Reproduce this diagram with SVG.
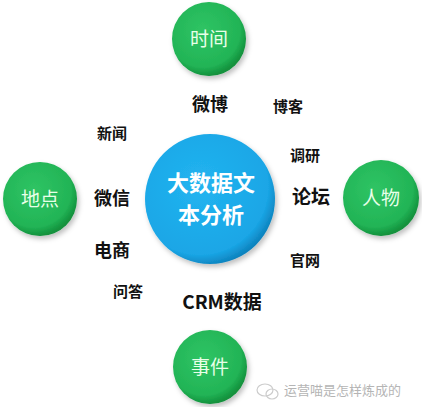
<svg xmlns="http://www.w3.org/2000/svg" width="422" height="407" viewBox="0 0 422 407">
<defs>
<radialGradient id="gG" cx="0.42" cy="0.38" r="0.62">
<stop offset="0" stop-color="#2fc464"/>
<stop offset="0.8" stop-color="#22b456"/>
<stop offset="1" stop-color="#12913c"/>
</radialGradient>
<radialGradient id="bG" cx="0.42" cy="0.4" r="0.62">
<stop offset="0" stop-color="#22b4f0"/>
<stop offset="0.85" stop-color="#1aa6e6"/>
<stop offset="1" stop-color="#0d82bd"/>
</radialGradient>
<filter id="sh" x="-20%" y="-20%" width="140%" height="140%">
<feDropShadow dx="2" dy="3" stdDeviation="2.5" flood-color="#000" flood-opacity="0.25"/>
</filter>
</defs>
<style>
.g{fill:url(#gG);filter:url(#sh)}
.gt{font-family:"Noto Sans CJK SC","Noto Sans",sans-serif;font-size:19px;fill:#e8ffe8;text-anchor:middle}
.k{font-family:"Noto Sans CJK SC","Liberation Sans",sans-serif;font-weight:bold;fill:#111;text-anchor:middle}
.c{font-family:"Noto Sans CJK SC",sans-serif;font-weight:bold;font-size:22px;fill:#fff;text-anchor:middle}
</style>
<rect width="422" height="407" fill="#fff"/>
<g id="center">
<circle cx="210" cy="199" r="65" fill="url(#bG)" filter="url(#sh)"/>
<text class="c" x="211" y="191">大数据文</text>
<text class="c" x="211" y="223">本分析</text>
</g>
<g id="time"><circle class="g" cx="209" cy="39" r="37"/><text class="gt" x="209" y="46">时间</text></g>
<g id="place"><circle class="g" cx="40" cy="199" r="37"/><text class="gt" x="40" y="206">地点</text></g>
<g id="person"><circle class="g" cx="381" cy="198" r="38"/><text class="gt" x="381" y="205">人物</text></g>
<g id="event"><circle class="g" cx="210" cy="367" r="37"/><text class="gt" x="210" y="374">事件</text></g>
<g id="labels">
<text class="k" x="210" y="111" font-size="18">微博</text>
<text class="k" x="288" y="112" font-size="15">博客</text>
<text class="k" x="112" y="139" font-size="15">新闻</text>
<text class="k" x="305" y="161" font-size="15">调研</text>
<text class="k" x="112" y="205" font-size="18">微信</text>
<text class="k" x="311" y="204" font-size="19">论坛</text>
<text class="k" x="112" y="257" font-size="18">电商</text>
<text class="k" x="305" y="266" font-size="15">官网</text>
<text class="k" x="128" y="297" font-size="15">问答</text>
<text class="k" x="222" y="309" font-size="19">CRM数据</text>
</g>
<g id="watermark">
<ellipse cx="265" cy="390" rx="8" ry="6" fill="none" stroke="#ccc" stroke-width="1.2"/>
<ellipse cx="272" cy="394" rx="6" ry="5" fill="none" stroke="#ccc" stroke-width="1.2"/>
<text x="284" y="395" font-family="Noto Sans CJK SC,sans-serif" font-size="13" fill="#b5b5b5">运营喵是怎样炼成的</text>
</g>
</svg>
